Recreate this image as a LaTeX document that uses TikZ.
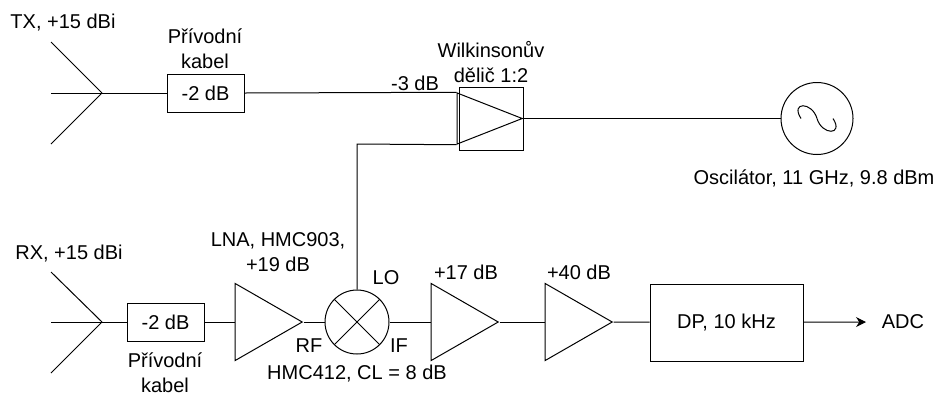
\documentclass[tikz,border=0pt]{standalone}
\usepackage{fontspec}
\setmainfont{Liberation Sans}
\usetikzlibrary{arrows.meta,shapes.geometric}
\tikzset{
    lbl/.style={inner sep=0pt,align=center,font=\fontsize{15}{18.75}\selectfont},
    block/.style={rectangle,draw=black,line width=0.75pt,inner sep=0pt,font=\fontsize{15}{18.75}\selectfont},
    amp/.style={isosceles triangle,isosceles triangle stretches,draw=black,line width=0.75pt,
        inner sep=0pt,anchor=apex,minimum width=57.75pt,minimum height=50.25pt},
    wire/.style={line width=0.75pt}
}
\begin{document}
\begin{tikzpicture}[x=0.75pt,y=-0.75pt]
    \useasboundingbox (0,0) rectangle (938,394);

    % Vysilac
    \coordinate (txtip) at (102,93);
    \coordinate (tx1) at (51,42);
    \coordinate (tx2) at (51,93);
    \coordinate (tx3) at (51,144);
    \node[block,minimum width=57.75pt,minimum height=28.5pt] (txcable) at (205.5,93) {-2 dB};
    \node[block,minimum width=48pt,minimum height=47.25pt] (split) at (491,118.5) {};
    \node[amp,minimum width=38.25pt,minimum height=48.75pt] (splittri) at (split.east) {};
    \node[circle,draw=black,line width=0.75pt,minimum size=54pt,inner sep=0pt] (osc) at (817,118.5) {};

    % Prijimac
    \coordinate (rxtip) at (102,322);
    \coordinate (rx1) at (51,272);
    \coordinate (rx2) at (51,322);
    \coordinate (rx3) at (51,373);
    \node[block,minimum width=57.75pt,minimum height=28.5pt] (rxcable) at (165.5,322) {-2 dB};
    \node[amp] (lna) at (303.5,322) {};
    \node[circle,draw=black,line width=0.75pt,minimum size=48pt,inner sep=0pt] (mix) at (357,322) {};
    \node[amp] (amp1) at (499.5,322) {};
    \node[amp] (amp2) at (613.5,322) {};
    \node[block,minimum width=114.75pt,minimum height=57.75pt] (dp) at (726.5,322.5) {DP, 10 kHz};
    \coordinate (adc) at (866,322);
    \coordinate (bend) at (357,144);

    % Popisky
    \node[lbl] (txlbl) at (63,23) {TX, +15 dBi};
    \node[lbl] (txcablelbl) at (205,49) {Přívodní\\kabel};
    \node[lbl] (att) at (415,83) {-3 dB};
    \node[lbl] (splitlbl) at (491,62) {Wilkinsonův\\dělič 1:2};
    \node[lbl] (osclbl) at (814,178) {Oscilátor, 11 GHz, 9.8 dBm};
    \node[lbl] (rxlbl) at (69,254) {RX, +15 dBi};
    \node[lbl] (rxcablelbl) at (165,373) {Přívodní\\kabel};
    \node[lbl] (lnalbl) at (278,252) {LNA, HMC903,\\+19 dB};
    \node[lbl] (lolbl) at (386,278) {LO};
    \node[lbl] (rflbl) at (309,346) {RF};
    \node[lbl] (iflbl) at (399,346) {IF};
    \node[lbl] (mixlbl) at (357,374) {HMC412, CL = 8 dB};
    \node[lbl] (amp1lbl) at (466,272) {+17 dB};
    \node[lbl] (amp2lbl) at (579,272) {+40 dB};
    \node[lbl] (adclbl) at (903,322) {ADC};

    % Anteny
    \draw[wire] (tx1) -- (txtip);
    \draw[wire] (tx2) -- (txtip);
    \draw[wire] (tx3) -- (txtip);
    \draw[wire] (rx1) -- (rxtip);
    \draw[wire] (rx2) -- (rxtip);
    \draw[wire] (rx3) -- (rxtip);

    % Spoje
    \draw[wire] (txtip) -- (txcable);
    \draw[wire] (txcable.east) -- (splittri.left corner);
    \draw[wire] (splittri.apex) -- (osc);
    \draw[wire] (mix.north) -- (bend) -- (splittri.right corner);
    \draw[wire] (rxtip) -- (rxcable);
    \draw[wire] (rxcable) -- (lna.lower side);
    \draw[wire] (lna.apex) -- (mix);
    \draw[wire] (mix) -- (amp1.lower side);
    \draw[wire] (amp1.apex) -- (amp2.lower side);
    \draw[wire] (amp2.apex) -- (dp);
    \draw[wire,-{Stealth[length=7.5pt,width=7.5pt]}] (dp) -- (adc);

    % Smesovac a sinus
    \draw[wire] (mix.45) -- (mix.225);
    \draw[wire] (mix.135) -- (mix.315);
    \draw[wire] (osc.center) .. controls +(-5,-17) and +(-11,-17) .. +(-16,0);
    \draw[wire] (osc.center) .. controls +(5,17) and +(11,17) .. +(16,0);

\end{tikzpicture}
\end{document}
